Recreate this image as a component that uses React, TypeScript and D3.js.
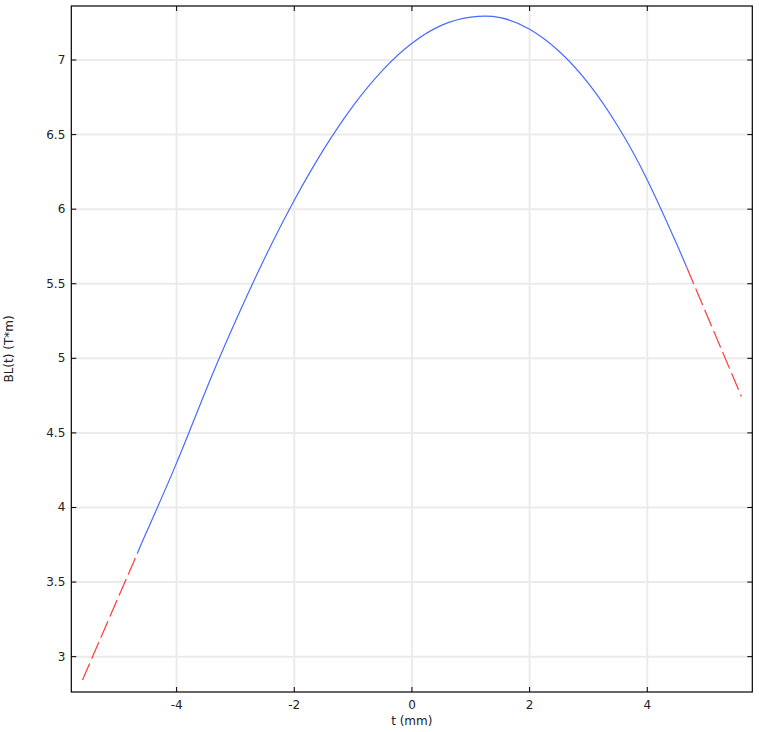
import React from "react";
import * as d3 from "d3";

const tBlue = [-4.67, -4.5, -4, -3.5, -3, -2.5, -2, -1.5, -1, -0.5, 0, 0.5, 1, 1.5, 2, 2.5, 3, 3.5, 4, 4.5, 4.67];
const blBlue = [3.69, 3.845, 4.299, 4.788, 5.248, 5.674, 6.06, 6.401, 6.693, 6.931, 7.112, 7.232, 7.287, 7.284, 7.206, 7.059, 6.843, 6.556, 6.196, 5.766, 5.61];
const tRedLeft = [-5.6, -4.67];
const blRedLeft = [2.844, 3.69];
const tRedRight = [4.67, 5.6];
const blRedRight = [5.61, 4.744];
const xTicks = [-4, -2, 0, 2, 4];
const yTicks = [3, 3.5, 4, 4.5, 5, 5.5, 6, 6.5, 7];

const W = 759, H = 732;
const L = 71.3, R = 752.3, T = 6, B = 692;

export default function App() {
  const x = d3.scaleLinear().domain([-5.79, 5.785]).range([L, R]);
  const y = d3.scaleLinear().domain([2.763, 7.362]).range([B, T]);
  const line = d3.line<[number, number]>().x(d => x(d[0])).y(d => y(d[1])).curve(d3.curveNatural);
  const straight = d3.line<[number, number]>().x(d => x(d[0])).y(d => y(d[1]));
  const blue = tBlue.map((t, i) => [t, blBlue[i]] as [number, number]);
  const redL = tRedLeft.map((t, i) => [t, blRedLeft[i]] as [number, number]);
  const redR = tRedRight.map((t, i) => [t, blRedRight[i]] as [number, number]);
  const font = "DejaVu Sans, sans-serif";
  return (
    <svg width={W} height={H} style={{ position: "absolute", left: 0, top: 0, background: "#fff" }} fontFamily={font}>
      <rect x={0} y={0} width={W} height={H} fill="#fff" />
      {xTicks.map(v => (
        <line key={"gx" + v} x1={x(v)} x2={x(v)} y1={T} y2={B} stroke="#ebebeb" strokeWidth={2} />
      ))}
      {yTicks.map(v => (
        <line key={"gy" + v} x1={L} x2={R} y1={y(v)} y2={y(v)} stroke="#ebebeb" strokeWidth={2} />
      ))}
      <path d={line(blue) || ""} fill="none" stroke="#4a6aff" strokeWidth={1.2} />
      <path d={straight(redL) || ""} fill="none" stroke="#ff3a3a" strokeWidth={1.2} strokeDasharray="18,5" />
      <path d={straight(redR) || ""} fill="none" stroke="#ff3a3a" strokeWidth={1.2} strokeDasharray="18,5" />
      <rect x={L} y={T} width={R - L} height={B - T} fill="none" stroke="#000" strokeWidth={1.2} />
      {xTicks.map(v => (
        <g key={"tx" + v}>
          <line x1={x(v)} x2={x(v)} y1={B} y2={B - 5} stroke="#000" />
          <line x1={x(v)} x2={x(v)} y1={T} y2={T + 5} stroke="#000" />
          <text x={x(v)} y={B + 17} textAnchor="middle" fontSize={12} fill="#222">{String(v)}</text>
        </g>
      ))}
      {yTicks.map(v => (
        <g key={"ty" + v}>
          <line x1={L} x2={L + 5} y1={y(v)} y2={y(v)} stroke="#000" />
          <line x1={R} x2={R - 5} y1={y(v)} y2={y(v)} stroke="#000" />
          <text x={L - 6} y={y(v) + 4} textAnchor="end" fontSize={12} fill="#222">{String(v)}</text>
        </g>
      ))}
      <text x={(L + R) / 2} y={725} textAnchor="middle" fontSize={12} fill="#222">t (mm)</text>
      <text transform={`translate(13, ${(T + B) / 2}) rotate(-90)`} textAnchor="middle" fontSize={12} fill="#222">BL(t) (T*m)</text>
    </svg>
  );
}
